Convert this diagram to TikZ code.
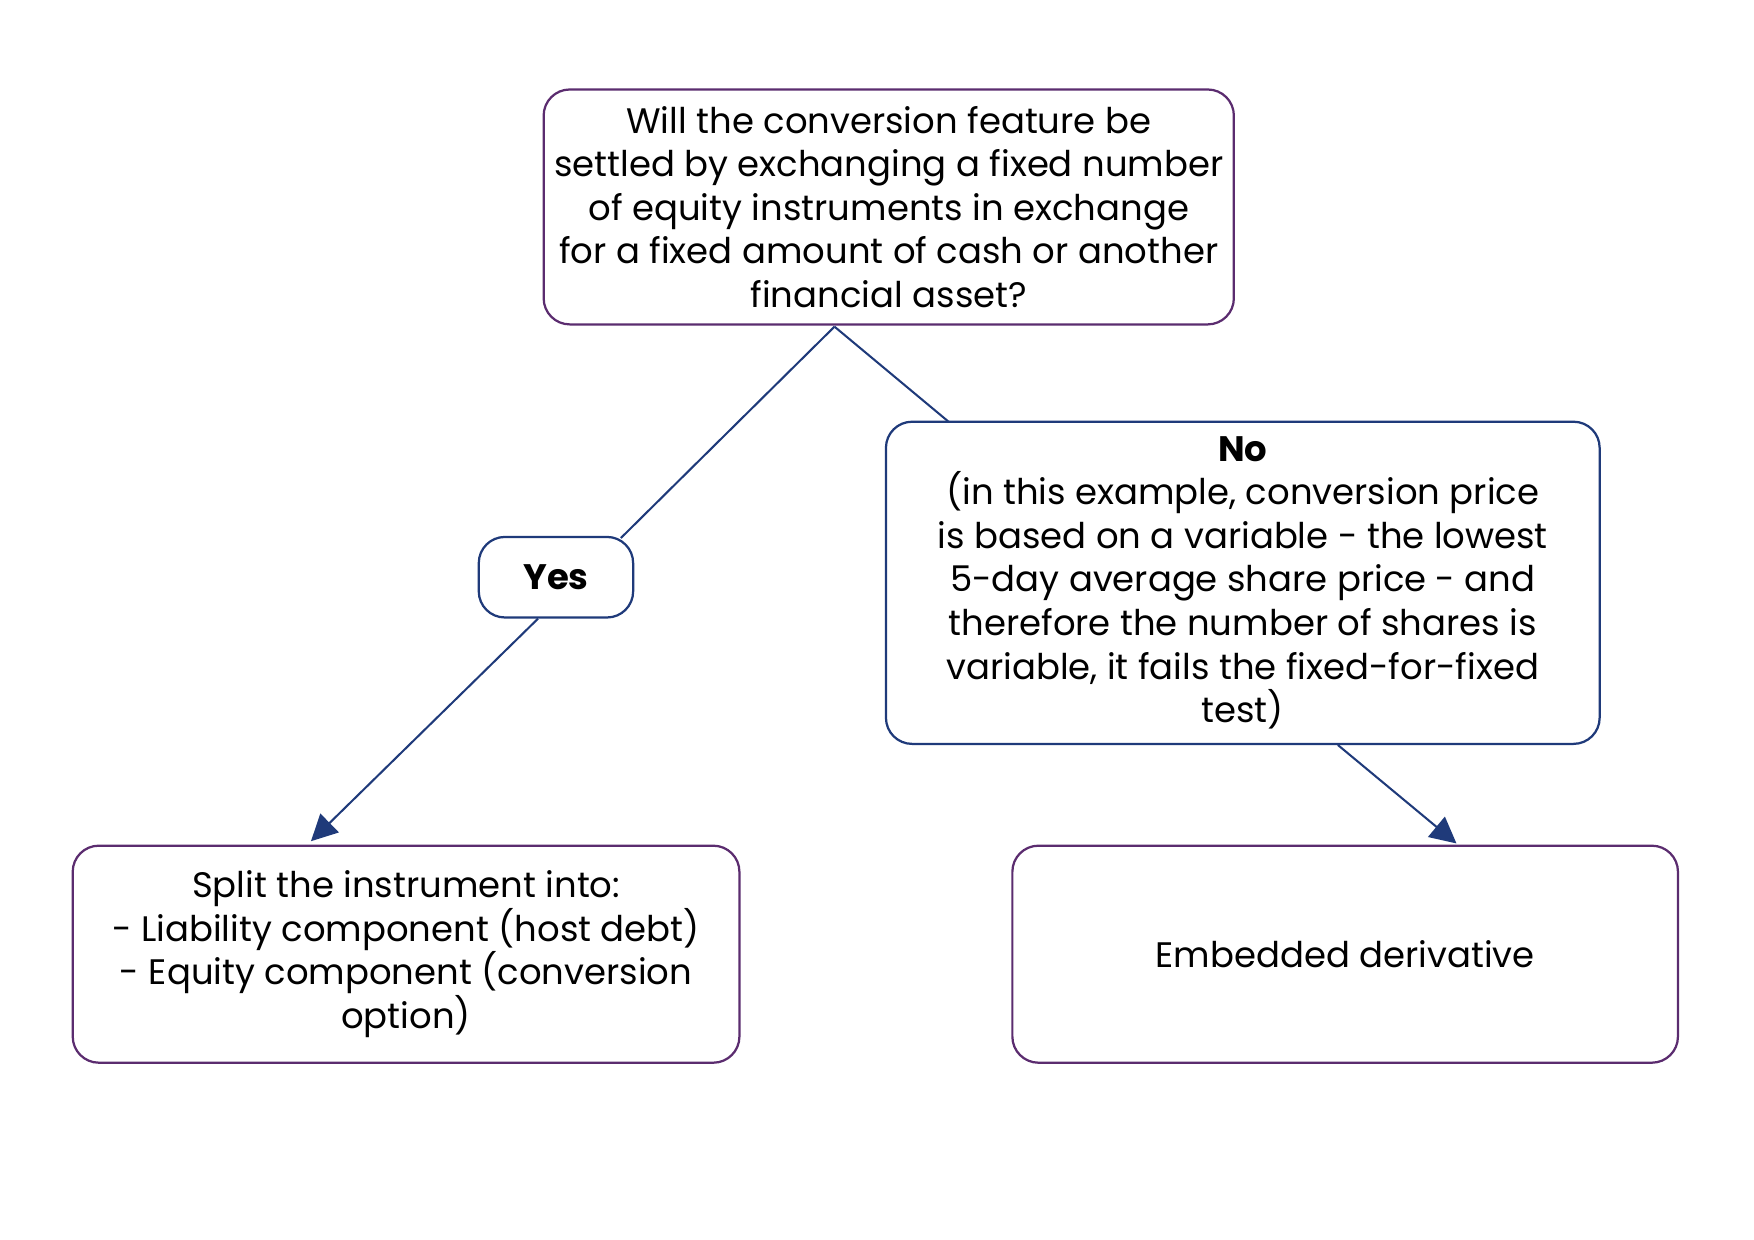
\documentclass[tikz,border=0pt]{standalone}
\usepackage{fontspec}
\setmainfont{Poppins}
\usetikzlibrary{arrows.meta}
\definecolor{pur}{HTML}{5B2C6F}
\definecolor{nav}{HTML}{1F3A7A}
\begin{document}
\begin{tikzpicture}[x=0.6pt,y=-0.6pt,
  box/.style={draw=#1,line width=1.2pt,rounded corners=14pt,align=center,inner sep=0pt,font=\fontsize{19}{23.4}\selectfont},
  conn/.style={draw=nav,line width=1.1pt},
  arr/.style={conn,-{Triangle[width=14pt,length=14pt]}}]
\useasboundingbox (0,0) rectangle (1568,1108);
\node[box=pur,minimum width=617*0.6pt,minimum height=210*0.6pt] (q) at (794.5,185) {Will the conversion feature be\\settled by exchanging a fixed number\\of equity instruments in exchange\\for a fixed amount of cash or another\\financial asset?};
\node[box=nav,minimum width=138*0.6pt,minimum height=72*0.6pt] (yes) at (497,516) {\textbf{Yes}};
\node[box=nav,minimum width=638*0.6pt,minimum height=288*0.6pt] (no) at (1111,521) {\textbf{No}\\(in this example, conversion price\\is based on a variable - the lowest\\5-day average share price - and\\therefore the number of shares is\\variable, it fails the fixed-for-fixed\\test)};
\node[box=pur,minimum width=596*0.6pt,minimum height=194*0.6pt] (split) at (363,853) {Split the instrument into:\\- Liability component (host debt)\\- Equity component (conversion\\option)};
\node[box=pur,minimum width=595*0.6pt,minimum height=194*0.6pt] (emb) at (1202.5,853) {Embedded derivative};
\coordinate (qa) at (746,292);
\coordinate (ya) at (555,481);
\coordinate (yb) at (481,553);
\coordinate (sa) at (278,752);
\coordinate (na) at (848,377);
\coordinate (nb) at (1196,666);
\coordinate (ea) at (1302,754);
\draw[conn] (qa) -- (ya);
\draw[conn] (qa) -- (na);
\draw[arr] (yb) -- (sa);
\draw[arr] (nb) -- (ea);
\end{tikzpicture}
\end{document}
